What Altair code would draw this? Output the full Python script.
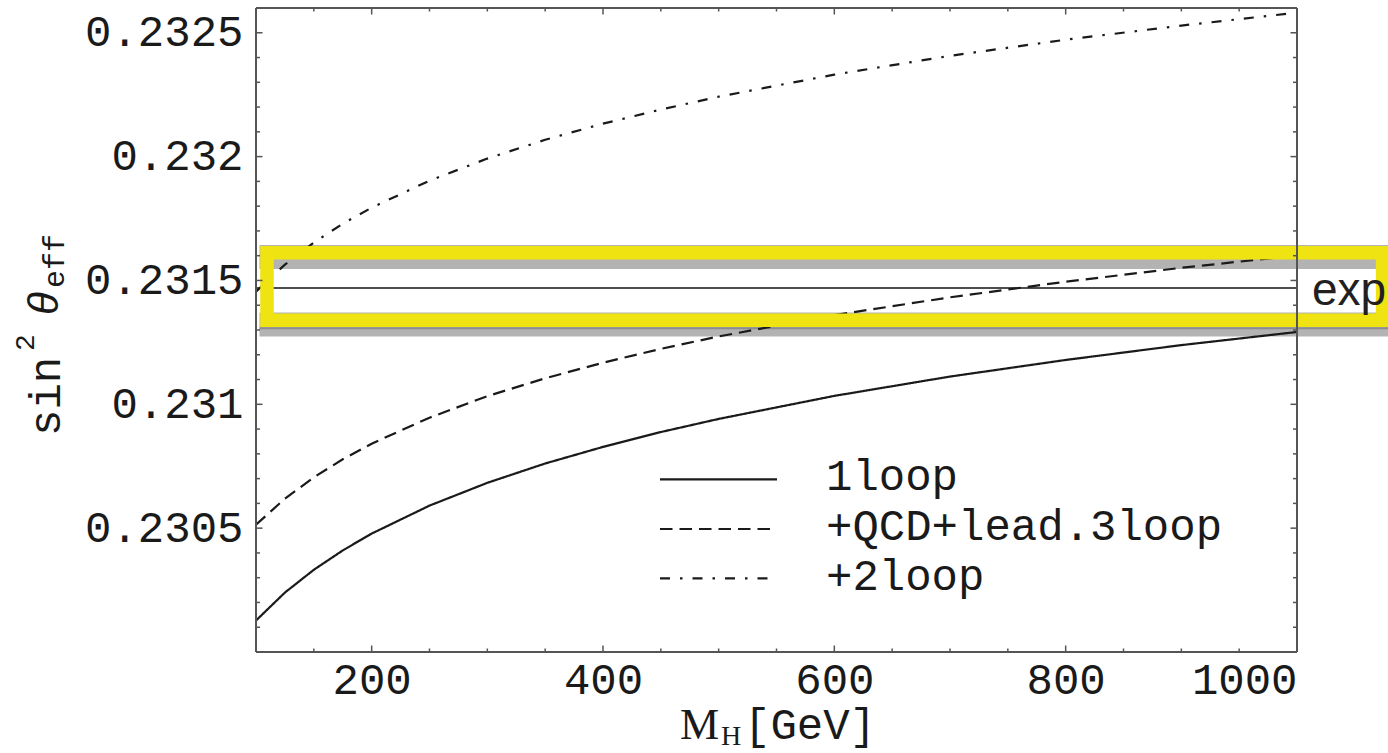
import altair as alt
import pandas as pd

# ---------------- data ----------------
mh = [100, 125, 150, 175, 200, 250, 300, 350, 400, 450, 500, 600, 700, 800, 900, 1000]
one_loop = [0.230127, 0.230240, 0.230332, 0.230410, 0.230478, 0.230591, 0.230683, 0.230761,
            0.230828, 0.230888, 0.230941, 0.231034, 0.231112, 0.231179, 0.231239, 0.231292]
qcd_3loop = [0.230514, 0.230619, 0.230705, 0.230778, 0.230841, 0.230946, 0.231033, 0.231105,
             0.231168, 0.231224, 0.231274, 0.231360, 0.231432, 0.231495, 0.231551, 0.231601]
two_loop = [0.231455, 0.231564, 0.231653, 0.231729, 0.231794, 0.231903, 0.231992, 0.232068,
            0.232133, 0.232190, 0.232242, 0.232331, 0.232407, 0.232472, 0.232529, 0.232581]
series_names = ["1loop", "+QCD+lead.3loop", "+2loop"]

exp_center = 0.23147
upper_band = [0.231546, 0.231643]
lower_band = [0.231274, 0.231371]
lower_edge = 0.231307
band_x = [103, 1090]
box_x = [109.5, 1074]
box_y = [0.231339, 0.231612]

x_major = [200, 400, 600, 800, 1000]
x_minor = [150, 250, 300, 350, 450, 500, 550, 650, 700, 750, 850, 900, 950]
y_major = [0.2305, 0.231, 0.2315, 0.232, 0.2325]
y_minor = [0.2301, 0.2302, 0.2303, 0.2304, 0.2306, 0.2307, 0.2308, 0.2309,
           0.2311, 0.2312, 0.2313, 0.2314, 0.2316, 0.2317, 0.2318, 0.2319,
           0.2321, 0.2322, 0.2323, 0.2324]

# ---------------- layout / style ----------------
W, H = 1041, 644
MONO = "Liberation Mono"
INK = "#1a1a1a"
FRAME = "#555555"
YELLOW = "#EFE312"
GRAY = "#b3b3b3"
dash_patterns = [[1, 0], [12.5, 7], [10, 10, 2.5, 10]]

xs = alt.Scale(domain=[100, 1000], nice=False, zero=False)
ys = alt.Scale(domain=[0.2300, 0.2326], nice=False, zero=False)
x_axis = alt.Axis(values=x_major, format="d", title=None, labelBaseline="alphabetic",
                  labelPadding=41, ticks=False, tickSize=0, domain=False, grid=False)
y_axis = alt.Axis(values=y_major, format="~g", title=None, labelBaseline="middle",
                  labelPadding=13, ticks=False, tickSize=0, domain=False, grid=False)


def X(field, **kw):
    return alt.X(field, type="quantitative", scale=xs, axis=x_axis, **kw)


def Y(field, **kw):
    return alt.Y(field, type="quantitative", scale=ys, axis=y_axis, **kw)


rows = []
for name, vals in zip(series_names, [one_loop, qcd_3loop, two_loop]):
    for m, v in zip(mh, vals):
        rows.append({"series": name, "mh": m, "v": v})
curves_df = pd.DataFrame(rows)

bands_df = pd.DataFrame({"x1": [band_x[0]] * 2, "x2": [band_x[1]] * 2,
                         "y1": [upper_band[0], lower_band[0]],
                         "y2": [upper_band[1], lower_band[1]]})
box_df = pd.DataFrame({"x1": [box_x[0]], "x2": [box_x[1]], "y1": [box_y[0]], "y2": [box_y[1]]})
center_df = pd.DataFrame({"x1": [100], "x2": [1000], "y": [exp_center]})
edge_df = pd.DataFrame({"x1": [band_x[0]], "x2": [band_x[1]], "y": [lower_edge]})

bands = alt.Chart(bands_df).mark_rect(color=GRAY).encode(
    x=X("x1"), x2="x2", y=Y("y1"), y2="y2")
edge = alt.Chart(edge_df).mark_rule(color="#8c8c8c", strokeWidth=2).encode(
    x=X("x1"), x2="x2", y=Y("y"))
center = alt.Chart(center_df).mark_rule(color="#4d4d4d", strokeWidth=2).encode(
    x=X("x1"), x2="x2", y=Y("y"))

curves = alt.Chart(curves_df).mark_line(color=INK, strokeWidth=2.2).encode(
    x=X("mh"), y=Y("v"),
    strokeDash=alt.StrokeDash("series:N", scale=alt.Scale(domain=series_names, range=dash_patterns),
                              legend=None),
    detail="series:N")

box = alt.Chart(box_df).mark_rect(fillOpacity=0, stroke=YELLOW, strokeWidth=13.5, strokeJoin="miter").encode(
    x=X("x1"), x2="x2", y=Y("y1"), y2="y2")

exp_text = alt.Chart(pd.DataFrame({"t": ["exp"]})).mark_text(
    font="Liberation Sans", fontSize=46, color="#231f20", align="left", baseline="alphabetic").encode(
    x=alt.value(1056), y=alt.value(297), text="t:N")

# ---------------- ticks (inward) ----------------
def xticks(vals, length):
    df = pd.DataFrame({"t": vals})
    bottom = alt.Chart(df).mark_rule(color=FRAME, strokeWidth=1.5).encode(
        x=X("t"), y=alt.value(H), y2=alt.value(H - length))
    top = alt.Chart(df).mark_rule(color=FRAME, strokeWidth=1.5).encode(
        x=X("t"), y=alt.value(0), y2=alt.value(length))
    return [bottom, top]


def yticks(vals, length):
    df = pd.DataFrame({"t": vals})
    left = alt.Chart(df).mark_rule(color=FRAME, strokeWidth=1.5).encode(
        y=Y("t"), x=alt.value(0), x2=alt.value(length))
    right = alt.Chart(df).mark_rule(color=FRAME, strokeWidth=1.5).encode(
        y=Y("t"), x=alt.value(W), x2=alt.value(W - length))
    return [left, right]


ticks = xticks(x_major, 6.5) + xticks(x_minor, 3.5) + yticks(y_major, 6.5) + yticks(y_minor, 4)

dummy = pd.DataFrame({"a": [0]})
frame = [
    alt.Chart(dummy).mark_rule(color=FRAME, strokeWidth=2).encode(
        x=alt.value(0), y=alt.value(0), y2=alt.value(H)),
    alt.Chart(dummy).mark_rule(color=FRAME, strokeWidth=2).encode(
        x=alt.value(W), y=alt.value(0), y2=alt.value(H)),
    alt.Chart(dummy).mark_rule(color=FRAME, strokeWidth=2).encode(
        x=alt.value(0), x2=alt.value(W), y=alt.value(0)),
    alt.Chart(dummy).mark_rule(color=FRAME, strokeWidth=2).encode(
        x=alt.value(0), x2=alt.value(W), y=alt.value(H)),
]

# ---------------- legend ----------------
legend_layers = []
leg_line_y = [471.3, 521, 570.3]
leg_text_y = [482, 532, 582]
for name, dash, ly, ty in zip(series_names, dash_patterns, leg_line_y, leg_text_y):
    legend_layers.append(alt.Chart(dummy).mark_rule(color=INK, strokeWidth=2.2, strokeDash=dash).encode(
        x=alt.value(404), x2=alt.value(521), y=alt.value(ly)))
    legend_layers.append(alt.Chart(pd.DataFrame({"t": [name]})).mark_text(
        font=MONO, fontSize=44, color=INK, align="left", baseline="alphabetic").encode(
        x=alt.value(570), y=alt.value(ty), text="t:N"))

# ---------------- axis titles ----------------
def txt(s, x, y, size, font=MONO, angle=0, style="normal"):
    props = dict(font=font, fontSize=size, color=INK, align="left", baseline="alphabetic",
                 fontStyle=style)
    if angle:
        props["angle"] = angle
    return alt.Chart(pd.DataFrame({"t": [s]})).mark_text(**props).encode(
        x=alt.value(x), y=alt.value(y), text="t:N")


titles = [
    txt("M", 424, 731, 44, font="Liberation Serif"),
    txt("H", 465, 737, 28, font="Liberation Serif"),
    txt("[GeV]", 488, 731, 44),
    txt("sin", -196, 428, 44, angle=270),
    txt("2", -222, 343, 28, angle=270),
    txt("θ", -198, 307, 42, font="Liberation Sans", angle=270, style="italic"),
    txt("eff", -192, 280, 30, angle=270),
]

chart = alt.layer(
    bands, edge, center, curves, box, exp_text, *ticks, *frame, *legend_layers, *titles
).properties(
    width=W, height=H,
    autosize=alt.AutoSizeParams(type="none"),
    padding={"left": 256, "top": 8, "right": 91, "bottom": 101},
).configure_view(stroke=None).configure_axis(
    labelFont=MONO, labelFontSize=44, labelColor=INK
)

chart.save("out.html", embed_options={"renderer": "svg", "actions": False})
